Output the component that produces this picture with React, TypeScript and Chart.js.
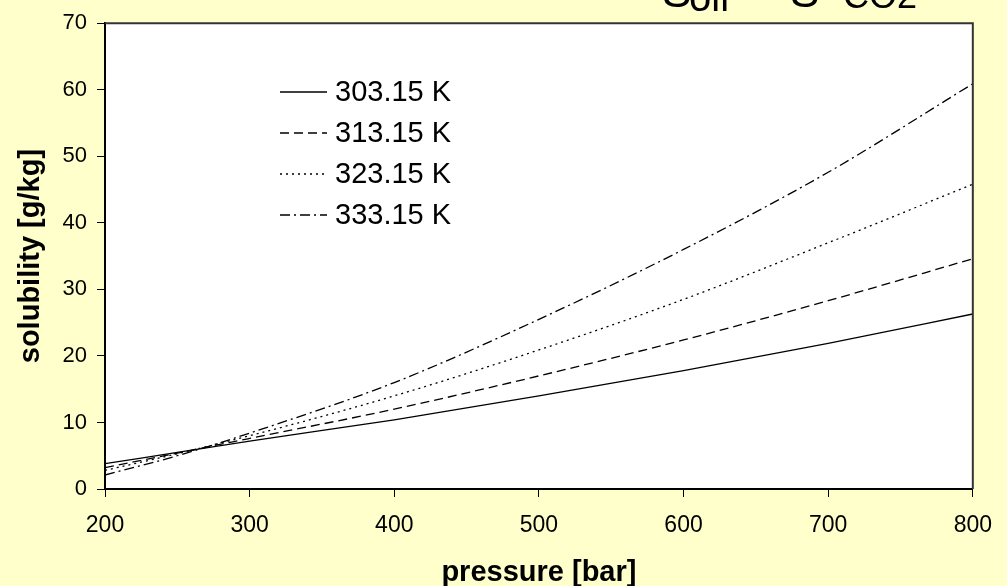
import React, { useEffect, useRef } from "react";
import { Chart, registerables } from "chart.js";

Chart.register(...registerables);

const pressures = [200, 250, 300, 400, 500, 600, 700, 800];
const s303 = [3.8, 5.5, 7.2, 10.4, 14.0, 17.8, 21.9, 26.3];
const s313 = [3.2, 5.4, 7.6, 12.0, 17.0, 22.4, 28.3, 34.6];
const s323 = [2.8, 5.3, 8.0, 14.0, 20.9, 28.5, 37.0, 45.8];
const s333 = [2.1, 5.0, 8.4, 16.0, 25.5, 36.0, 47.6, 60.9];
const seriesLabels = ["303.15 K", "313.15 K", "323.15 K", "333.15 K"];
const xTicks = [200, 300, 400, 500, 600, 700, 800];
const yTicks = [0, 10, 20, 30, 40, 50, 60, 70];

const dashes: number[][] = [[], [9, 5], [2, 4], [10, 4, 2, 4]];
const FONT = "'Liberation Sans', Arial, sans-serif";

export default function App() {
  const ref = useRef<HTMLCanvasElement>(null);
  useEffect(() => {
    const series = [s303, s313, s323, s333];
    const bgPlugin = {
      id: "bg",
      beforeDraw(chart: any) {
        const { ctx, chartArea } = chart;
        ctx.save();
        ctx.fillStyle = "#FFFFCC";
        ctx.fillRect(0, 0, chart.width, chart.height);
        ctx.fillStyle = "#FFFFFF";
        ctx.fillRect(chartArea.left, chartArea.top, chartArea.right - chartArea.left, chartArea.bottom - chartArea.top);
        ctx.restore();
      },
      afterDraw(chart: any) {
        const { ctx, chartArea } = chart;
        ctx.save();
        // top and right frame
        ctx.strokeStyle = "#333333";
        ctx.lineWidth = 2;
        ctx.beginPath();
        ctx.moveTo(chartArea.left, chartArea.top);
        ctx.lineTo(chartArea.right, chartArea.top);
        ctx.lineTo(chartArea.right, chartArea.bottom);
        ctx.stroke();
        // legend
        const rowsY = [92, 133, 174, 215];
        ctx.font = `29px ${FONT}`;
        ctx.textBaseline = "middle";
        ctx.fillStyle = "#000";
        seriesLabels.forEach((lab, i) => {
          ctx.strokeStyle = "#000";
          ctx.lineWidth = 1.3;
          ctx.setLineDash(dashes[i]);
          ctx.beginPath();
          ctx.moveTo(280, rowsY[i]);
          ctx.lineTo(327, rowsY[i]);
          ctx.stroke();
          ctx.setLineDash([]);
          ctx.fillText(lab, 335, rowsY[i] + 1);
        });
        // clipped formula at top
        ctx.textBaseline = "alphabetic";
        ctx.font = `44px ${FONT}`;
        ctx.fillText("S", 662, 7);
        ctx.font = `40px ${FONT}`;
        ctx.fillText("oil", 689, 11);
        ctx.font = `44px ${FONT}`;
        ctx.fillText("=", 742, 7);
        ctx.fillText("S", 790, 7);
        ctx.font = `36px ${FONT}`;
        ctx.fillText("CO2", 843, 8);
        ctx.restore();
      },
    };

    const chart = new Chart(ref.current!, {
      type: "line",
      data: {
        datasets: series.map((s, i) => ({
          label: seriesLabels[i],
          data: pressures.map((p, j) => ({ x: p, y: s[j] })),
          borderColor: "#000",
          borderWidth: 1.3,
          borderDash: dashes[i],
          pointRadius: 0,
          fill: false,
          cubicInterpolationMode: "monotone" as const,
        })),
      },
      options: {
        animation: false,
        responsive: false,
        layout: { padding: { left: 0, top: 19, right: 31, bottom: 0 } },
        plugins: { legend: { display: false }, tooltip: { enabled: false } },
        scales: {
          x: {
            type: "linear",
            min: 200,
            max: 800,
            afterFit(scale: any) { scale.height = 97; },
            afterBuildTicks(scale: any) { scale.ticks = xTicks.map((v) => ({ value: v })); },
            grid: { display: true, drawOnChartArea: false, drawTicks: true, tickLength: 8, color: "#000", lineWidth: 1 },
            border: { display: true, color: "#000", width: 2 },
            ticks: { color: "#000", font: { family: FONT, size: 23 }, padding: 15, maxRotation: 0 },
            title: {
              display: true,
              text: "pressure [bar]",
              color: "#000",
              font: { family: FONT, size: 29, weight: "bold", lineHeight: 1 },
              padding: { top: 0, bottom: -1 },
            },
          },
          y: {
            type: "linear",
            min: 0,
            max: 70,
            afterFit(scale: any) { scale.width = 105; },
            afterBuildTicks(scale: any) { scale.ticks = yTicks.map((v) => ({ value: v })); },
            grid: { display: true, drawOnChartArea: false, drawTicks: true, tickLength: 8, color: "#000", lineWidth: 1 },
            border: { display: true, color: "#000", width: 2 },
            ticks: { color: "#000", font: { family: FONT, size: 22 }, padding: 10 },
            title: {
              display: true,
              text: "solubility [g/kg]",
              color: "#000",
              font: { family: FONT, size: 29, weight: "bold", lineHeight: 1 },
              padding: { top: 16, bottom: 0 },
            },
          },
        },
      },
      plugins: [bgPlugin],
    });
    return () => chart.destroy();
  }, []);

  return (
    <div style={{ position: "fixed", left: 0, top: 0, width: 1007, height: 586, background: "#FFFFCC" }}>
      <canvas ref={ref} width={1007} height={586} style={{ display: "block" }} />
    </div>
  );
}
